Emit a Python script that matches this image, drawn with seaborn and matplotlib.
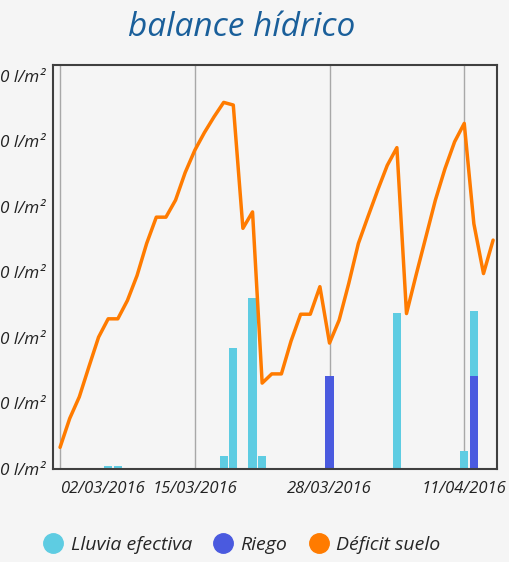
import numpy as np
import pandas as pd
import seaborn as sns
import matplotlib.pyplot as plt
from matplotlib.lines import Line2D

# day index (one point per day, 0 = 02/03/2016)
dias = list(range(46))

deficit = [3.3, 7.7, 11.0, 15.6, 20.1, 22.9, 22.9, 25.7, 29.5, 34.4,
           38.4, 38.4, 41.0, 45.2, 48.6, 51.3, 53.7, 55.9, 55.5, 36.7,
           39.2, 13.1, 14.5, 14.5, 19.5, 23.6, 23.6, 27.8, 19.2, 22.7,
           28.3, 34.4, 38.5, 42.5, 46.3, 49.0, 23.7, 29.6, 35.3, 41.0,
           45.8, 49.9, 52.7, 37.4, 29.8, 34.9]

lluvia = [0, 0, 0, 0, 0, 0.4, 0.4, 0, 0, 0,
          0, 0, 0, 0, 0, 0, 0, 2.0, 18.4, 0,
          26.0, 2.0, 0, 0, 0, 0, 0, 0, 0, 0,
          0, 0, 0, 0, 0, 23.8, 0, 0, 0, 0,
          0, 0, 2.7, 9.9, 0, 0]

riego = [0] * 46
riego[28] = 14.2
riego[43] = 14.2

tick_pos = [0, 14, 28, 42]
tick_labels = ['02/03/2016', '15/03/2016', '28/03/2016', '11/04/2016']
ytick_vals = [0, 10, 20, 30, 40, 50, 60]
ytick_labels = ['0 l/m²'] * 7

c_lluvia = '#5ecce2'
c_riego = '#4a5adf'
c_deficit = '#ff7b00'
bg = '#f5f5f5'

sns.set_theme(style='white', rc={'axes.facecolor': bg, 'figure.facecolor': bg})
plt.rcParams['font.family'] = ['Open Sans', 'DejaVu Sans']

df = pd.DataFrame({'dia': dias, 'deficit': deficit, 'lluvia': lluvia, 'riego': riego})
df['total'] = df['lluvia'] + df['riego']

fig = plt.figure(figsize=(5.1, 5.62), dpi=100)
ax = fig.add_axes([0.104, 0.1655, 0.871, 0.7188])

sns.barplot(data=df, x='dia', y='total', native_scale=True, color=c_lluvia,
            saturation=1, width=0.85, linewidth=0, ax=ax)
sns.barplot(data=df, x='dia', y='riego', native_scale=True, color=c_riego,
            saturation=1, width=0.85, linewidth=0, ax=ax)
sns.lineplot(data=df, x='dia', y='deficit', color=c_deficit, lw=2.5, ax=ax)

ax.set_xlim(-0.73, 45.43)
ax.set_ylim(0, 61.6)
ax.set_xticks(tick_pos)
ax.set_xticklabels(tick_labels, fontsize=12, style='italic', color='#222222')
ax.get_xticklabels()[0].set_ha('left')
ax.set_yticks(ytick_vals)
ax.set_yticklabels(ytick_labels, fontsize=12.3, style='italic', color='#222222')
ax.tick_params(axis='x', length=0, pad=9)
ax.tick_params(axis='y', length=0, pad=6)
ax.set_xlabel('')
ax.set_ylabel('')
ax.grid(False)
for x in tick_pos:
    ax.axvline(x, color='#a8a8a8', lw=1, zorder=0)
for s in ax.spines.values():
    s.set_color('#404040')
    s.set_linewidth(1.5)

fig.text(241.5 / 510, 1 - 28 / 562, 'balance hídrico', ha='center', va='center',
         fontsize=24, style='italic', color='#1a5f9a')

handles = [Line2D([], [], ls='', marker='o', ms=14, color=c) for c in (c_lluvia, c_riego, c_deficit)]
fig.legend(handles, ['Lluvia efectiva', 'Riego', 'Déficit suelo'], loc='center',
           bbox_to_anchor=(241 / 510, 1 - 545 / 562), ncol=3, frameon=False,
           prop={'size': 14, 'style': 'italic'}, handletextpad=0.3, columnspacing=1.0,
           handlelength=1.2)

fig.savefig('out.png', dpi=100, facecolor=bg)
